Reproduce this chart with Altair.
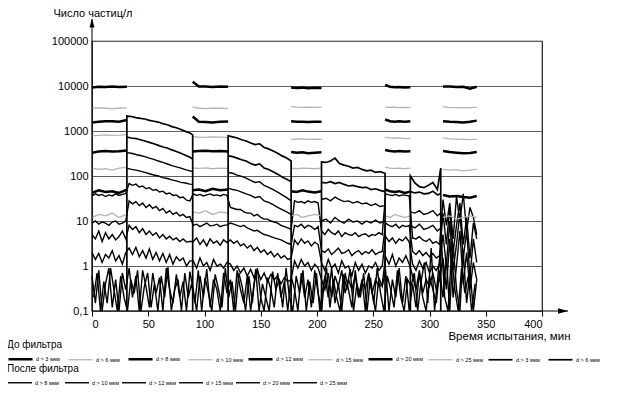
import altair as alt
import pandas as pd

FONT = "Liberation Sans"

# ---------------- legend labels ----------------
LB = ["d > 3 мкм", "d > 6 мкм", "d > 8 мкм", "d > 10 мкм", "d > 12 мкм", "d > 15 мкм",
      "d > 20 мкм", "d > 25 мкм", "d > 3 мкм ", "d > 6 мкм "]
LB_COLORS = ["#000000", "#b3b3b3", "#000000", "#b3b3b3", "#000000", "#b3b3b3",
             "#000000", "#b3b3b3", "#000000", "#000000"]
LB_WIDTHS = [2.5, 1.3, 2.5, 1.3, 2.5, 1.3, 2.5, 1.3, 1.7, 1.7]
LA = ["d > 8 мкм", "d > 10 мкм", "d > 12 мкм", "d > 15 мкм", "d > 20 мкм", "d > 25 мкм"]
LA_COLORS = ["#000000"] * 6
LA_WIDTHS = [1.4] * 6

# ---------------- time samples (min) ----------------
BEFORE_T = [
    [0, 6, 12, 18, 24, 31],
    [89.5, 95, 101, 107, 114, 121],
    [177, 182, 187, 192, 198, 204],
    [260.5, 265, 269, 273, 278, 283],
    [312, 318, 324, 330, 336, 342],
]
AFTER_T = [
    [31, 35, 39, 43, 47, 51, 55, 59, 63, 67, 71, 75, 79, 83, 87, 89.5],
    [121, 125, 129, 133, 137, 141, 145, 149, 153, 157, 161, 165, 169, 173, 177],
    [204, 208, 212, 216, 220, 224, 228, 232, 236, 240, 244, 248, 252, 256, 260.5],
    [283, 287, 291, 295, 299, 303, 307, 310],
]
LOW_T = list(range(0, 343, 3))
NOISE2_T = [1.5 + 3 * k for k in range(114)]

# ---------------- before-filter series (particles / l) ----------------
B1 = [[9300, 9600, 9500, 9700, 9500, 9600], [12500, 9800, 9700, 9500, 9700, 9600],
      [9300, 9000, 9200, 8900, 9100, 9000], [10500, 9600, 9400, 9500, 9300, 9400],
      [9800, 9700, 9500, 9600, 8700, 9600]]
B2 = [[3200, 3250, 3200, 3150, 3200, 3250], [3400, 3200, 3150, 3200, 3200, 3150],
      [3500, 3400, 3350, 3400, 3350, 3400], [3400, 3350, 3400, 3300, 3350, 3300],
      [3500, 3300, 3300, 3250, 3300, 3350]]
B3 = [[1550, 1600, 1650, 1650, 1600, 1750], [2100, 1600, 1580, 1550, 1600, 1620],
      [1650, 1600, 1600, 1580, 1600, 1600], [1800, 1650, 1600, 1650, 1600, 1650],
      [1650, 1600, 1580, 1550, 1600, 1700]]
B4 = [[780, 800, 820, 800, 810, 830], [750, 730, 720, 740, 730, 720],
      [650, 660, 670, 650, 660, 650], [720, 700, 690, 700, 680, 690],
      [700, 670, 660, 650, 640, 650]]
B5 = [[330, 350, 360, 350, 355, 370], [350, 360, 365, 355, 360, 350],
      [340, 330, 335, 320, 330, 335], [380, 360, 350, 360, 350, 355],
      [360, 340, 330, 320, 325, 340]]
B6 = [[150, 140, 145, 135, 150, 155], [150, 148, 152, 145, 150, 148],
      [150, 145, 150, 148, 145, 150], [155, 150, 148, 150, 145, 150],
      [140, 135, 138, 130, 135, 140]]
B7 = [[42, 48, 44, 46, 42, 50], [48, 50, 46, 52, 48, 50], [46, 44, 48, 45, 43, 46],
      [50, 46, 44, 46, 42, 45], [38, 35, 36, 34, 33, 36]]
B8 = [[12, 14, 13, 15, 12, 14], [16, 15, 17, 14, 16, 15], [13, 14, 12, 13, 14, 13],
      [13, 12, 14, 13, 12, 13], [12, 13, 11, 12, 13, 12]]

# ---------------- after-filter series, upper (only in after periods) ----------------
A1 = [[2150, 2100, 1980, 1900, 1850, 1720, 1650, 1580, 1450, 1380, 1250, 1180, 1080, 980, 900, 820],
      [780, 740, 700, 640, 600, 540, 500, 520, 430, 400, 360, 320, 280, 250, 215],
      [205, 200, 215, 250, 190, 175, 165, 150, 155, 140, 130, 135, 120, 125, 115],
      [100, 70, 58, 55, 62, 72, 50, 150]]
A2 = [[730, 700, 680, 640, 600, 560, 520, 480, 440, 420, 380, 350, 320, 290, 260, 240],
      [280, 270, 250, 230, 215, 190, 175, 185, 150, 140, 125, 110, 95, 85, 75],
      [72, 70, 75, 68, 72, 65, 60, 62, 58, 55, 56, 50, 52, 48, 45],
      [45, 42, 44, 40, 41, 46, 38, 40]]
A3 = [[330, 320, 300, 285, 270, 250, 235, 215, 200, 185, 170, 160, 150, 138, 130, 125],
      [120, 115, 105, 98, 90, 80, 72, 75, 62, 56, 50, 44, 38, 33, 28],
      [30, 32, 28, 34, 30, 27, 28, 25, 27, 24, 25, 22, 24, 21, 22],
      [16, 15, 17, 14, 15, 17, 13, 15]]
A4 = [[150, 140, 135, 128, 120, 112, 105, 100, 92, 88, 82, 78, 72, 70, 66, 65],
      [54, 50, 48, 44, 40, 37, 33, 35, 28, 26, 23, 20, 18, 16, 14],
      [10, 11, 9, 12, 10, 9, 11, 9.5, 10, 8.5, 10, 9, 10.5, 9, 10],
      [8, 7, 8.5, 6.5, 7, 8, 6, 7]]

# ---------------- after-filter series, lower (whole test, every 3 min) ----------------
A5 = [[36, 40, 37, 39, 35, 38, 36, 40, 37, 39, 41],
      [68, 62, 66, 57, 60, 52, 55, 48, 50, 44, 46, 40, 42, 37, 38, 33, 34, 29, 28],
      [40, 37, 39, 36, 38, 40, 37, 38, 36, 39, 37],
      [20, 19, 18, 18, 16, 15, 15, 13, 14, 12, 11, 11, 10, 9.5, 9, 8, 7.5, 7, 6.5],
      [28, 26, 27, 25, 28, 26, 27, 25],
      [6, 5, 6.5, 5.5, 5, 6, 4.5, 5.5, 5, 4.8, 5.5, 4.5, 5, 5.2, 4.5, 5, 4.8, 5.5, 5],
      [40, 38, 37, 39, 36, 38, 37, 36],
      [4.2, 4, 4.5, 3.8, 3.5, 4, 3.2, 3.5, 3],
      [30, 8, 25, 4, 35, 10, 40, 6, 20, 12, 5]]
A6 = [[9, 10, 8.5, 9.5, 9, 8, 9.5, 10, 8.5, 9, 10],
      [28, 24, 27, 22, 25, 20, 23, 19, 21, 17, 19, 15, 17, 14, 15.5, 13, 14, 12, 12.5],
      [8, 8.5, 7.5, 8.2, 9, 7.8, 8, 8.5, 7.5, 8, 8.2],
      [9, 8.5, 8, 7.5, 8, 7, 6.5, 6, 6.2, 5.5, 5, 4.8, 4.5, 4.2, 4, 3.8, 3.5, 3.2, 3],
      [8, 7.5, 8.5, 7, 8, 7.5, 6.5, 7.5],
      [2.2, 2, 2.4, 1.8, 2.1, 2.5, 1.9, 2, 2.3, 1.7, 2, 2.2, 1.8, 2.1, 1.9, 2.3, 1.8, 2, 2.1],
      [9, 8, 7.5, 8.5, 7, 8, 7.5, 8],
      [2.1, 1.8, 2.2, 1.7, 2, 1.6, 1.9, 1.5, 1.7],
      [15, 3, 20, 2, 8, 25, 3, 12, 1.5, 9, 4]]
A7 = [[5, 4, 6, 3.5, 5.5, 4, 5, 3.8, 4.5, 6, 4],
      [8, 6.5, 7.5, 5.5, 6.8, 5, 6, 4.8, 5.5, 4.2, 5, 4, 4.6, 3.8, 4.2, 3.5, 4, 3.4, 3.5],
      [3.5, 4.2, 3, 3.8, 2.8, 4, 3.2, 3.6, 2.9, 3.8, 3.3],
      [3.8, 3.2, 3.6, 2.8, 3.1, 2.5, 2.9, 2.2, 2.6, 2, 2.3, 1.8, 2.1, 1.6, 1.9, 1.5, 1.7, 1.4, 1.5],
      [3.8, 3, 4, 3.2, 3.6, 2.8, 3.4, 3],
      [1.2, 0.8, 1.4, 0.9, 1.1, 0.7, 1.3, 0.9, 1, 0.6, 1.2, 0.8, 1.1, 0.7, 1, 0.9, 1.2, 0.8, 1],
      [4.5, 3.5, 4.2, 3.2, 4, 3.6, 4.4, 3.4],
      [1.1, 0.8, 1.3, 0.9, 1.2, 0.7, 1, 0.8, 1.1],
      [5, 1, 10, 0.8, 3, 15, 1.5, 6, 0.6, 4, 1.2]]
A8 = [[2, 1.4, 1.9, 1.2, 1.8, 1.5, 2.2, 1.3, 1.7, 1.1, 2],
      [2.5, 1.8, 2.6, 1.6, 2.2, 1.5, 2.4, 1.4, 2, 1.3, 1.9, 1.2, 1.8, 1.1, 1.6, 1.3, 1.5, 1, 1.3],
      [1.3, 0.9, 1.5, 1, 1.2, 0.8, 1.4, 1, 1.1, 0.9, 1.2],
      [1.1, 0.8, 1, 0.7, 0.9, 0.6, 0.85, 0.55, 0.8, 0.5, 0.7, 0.45, 0.65, 0.5, 0.6, 0.4, 0.55, 0.45, 0.5],
      [1.3, 0.9, 1.4, 1, 1.2, 0.8, 1.1, 0.9],
      [0.5, 0.3, 0.7, 0.2, 0.6, 0.35, 0.8, 0.25, 0.5, 0.3, 0.6, 0.2, 0.45, 0.3, 0.7, 0.25, 0.5, 0.35, 0.4],
      [1.6, 1.1, 1.8, 1, 1.5, 1.2, 1.7, 1.1],
      [0.6, 0.3, 0.8, 0.25, 0.5, 0.35, 0.7, 0.3, 0.5],
      [1.5, 0.3, 4, 0.2, 1, 6, 0.4, 2, 0.3, 1.2, 0.5]]
N1 = [[0.6, 0.15, 0.8, 0.1, 0.4, 0.9, 0.12, 0.5, 0.1, 0.7, 0.3],
      [0.9, 0.2, 0.6, 0.1, 0.8, 0.35, 0.12, 0.7, 0.25, 0.55, 0.1, 0.9, 0.3, 0.15, 0.65, 0.2, 0.45, 0.1, 0.75],
      [0.3, 0.1, 0.6, 0.2, 0.85, 0.12, 0.5, 0.3, 0.1, 0.7, 0.25],
      [0.5, 0.1, 0.8, 0.3, 0.15, 0.6, 0.1, 0.4, 0.9, 0.2, 0.1, 0.55, 0.3, 0.12, 0.7, 0.2, 0.45, 0.1, 0.6],
      [0.3, 0.1, 0.7, 0.2, 0.5, 0.12, 0.8, 0.25],
      [0.1, 0.6, 0.2, 0.9, 0.15, 0.4, 0.1, 0.7, 0.3, 0.12, 0.8, 0.2, 0.5, 0.1, 0.65, 0.25, 0.1, 0.55, 0.35],
      [0.8, 0.1, 0.5, 0.2, 0.9, 0.15, 0.6, 0.1],
      [0.4, 0.12, 0.7, 0.2, 0.1, 0.6, 0.3, 0.15, 0.8],
      [0.2, 1.5, 0.1, 3, 0.3, 0.1, 2, 0.15, 0.8, 0.1, 0.5]]
N2 = [0.2, 0.7, 0.1, 0.45, 0.15, 0.9, 0.3, 0.1, 0.6, 0.2,
      0.1, 0.5, 0.25, 0.8, 0.1, 0.35, 0.7, 0.12, 0.4, 0.1,
      0.6, 0.2, 0.95, 0.1, 0.3, 0.5, 0.1, 0.7, 0.2, 0.4,
      0.15, 0.8, 0.1, 0.55, 0.25, 0.1, 0.65, 0.3, 0.12, 0.9,
      0.2, 0.45, 0.1, 0.7, 0.35, 0.1, 0.6, 0.15, 0.85, 0.1,
      0.4, 0.2, 0.1, 0.75, 0.3, 0.5, 0.12, 0.9, 0.2, 0.1,
      0.6, 0.25, 0.8, 0.1, 0.45, 0.15, 0.7, 0.1, 0.35, 0.9,
      0.12, 0.5, 0.2, 0.1, 0.65, 0.3, 0.85, 0.1, 0.4, 0.2,
      0.7, 0.1, 0.55, 0.15, 0.9, 0.25, 0.1, 0.6, 0.3, 0.12,
      0.8, 0.2, 0.1, 0.5, 0.35, 0.7, 0.1, 0.45, 1.2, 0.15,
      2.5, 0.1, 0.6, 4, 0.2, 0.1, 1.8, 0.3, 0.1, 0.9,
      0.25, 0.6, 0.1, 0.4]

BASE = 0.1  # reading shown at the axis floor between after-filter runs


def flat(segs):
    out = []
    for s in segs:
        out.extend(s)
    return out


def add(rows, lab, sid, ts, vs):
    for i, (t, v) in enumerate(zip(ts, vs)):
        rows.append({"lab": lab, "sid": sid, "t": t, "v": v, "o": i})


rows_b = []
for k, ser in enumerate([B1, B2, B3, B4, B5, B6, B7, B8]):
    for s, (ts, vs) in enumerate(zip(BEFORE_T, ser)):
        add(rows_b, LB[k], f"B{k}_{s}", ts, vs)
for s, (ts, vs) in enumerate(zip(AFTER_T, A1)):
    add(rows_b, LB[8], f"A1_{s}", [ts[0]] + ts + [ts[-1]], [BASE] + vs + [BASE])
for s, (ts, vs) in enumerate(zip(AFTER_T, A2)):
    add(rows_b, LB[9], f"A2_{s}", ts, vs)

rows_a = []
for k, ser in enumerate([A3, A4]):
    for s, (ts, vs) in enumerate(zip(AFTER_T, ser)):
        add(rows_a, LA[k], f"U{k}_{s}", ts, vs)
for k, ser in enumerate([A5, A6, A7, A8]):
    add(rows_a, LA[k + 2], f"L{k}", LOW_T, flat(ser))
add(rows_a, LA[4], "N1", LOW_T, flat(N1))
add(rows_a, LA[5], "N2", NOISE2_T, N2)

df_b = pd.DataFrame(rows_b)
df_a = pd.DataFrame(rows_a)

xs = alt.Scale(domain=[0, 400], nice=False, zero=False)
ys = alt.Scale(type="log", domain=[0.1, 100000], nice=False)

x_axis = alt.Axis(values=[0, 50, 100, 150, 200, 250, 300, 350, 400], domain=False, grid=False,
                  ticks=True, tickSize=5, tickColor="black", labelFontSize=11, labelColor="black",
                  labelFont=FONT, labelPadding=2, title="Время испытания, мин", titleX=478, titleY=25,
                  titleAlign="right", titleBaseline="middle", titleFontSize=11.5,
                  titleFontWeight="normal", titleColor="black", titleFont=FONT)
y_axis = alt.Axis(values=[0.1, 1, 10, 100, 1000, 10000, 100000],
                  labelExpr="datum.value < 1 ? '0,1' : format(datum.value, 'd')",
                  domain=False, ticks=False, grid=True, gridColor="#606060", gridWidth=1,
                  gridOpacity=1, labelFontSize=11, labelColor="black", labelFont=FONT, labelPadding=4,
                  title="Число частиц/л", titleAngle=0, titleX=-39, titleY=-34, titleAlign="left",
                  titleBaseline="top", titleFontSize=11, titleFontWeight="normal", titleColor="black",
                  titleFont=FONT)


def legend(title, y, cols):
    return alt.Legend(title=title, orient="none", legendX=-85, legendY=y, direction="horizontal",
                      columns=cols, symbolType="stroke", symbolSize=576, labelFontSize=5.5,
                      labelFont=FONT, labelColor="black", titleFontSize=10, titleFont=FONT,
                      titleFontWeight="normal", titleColor="black", titlePadding=-4,
                      gridAlign="all", columnPadding=0, labelOffset=2, rowPadding=0,
                      titleAnchor="start")


leg_b = legend("До фильтра", 298.5, 10)
leg_a = legend("После фильтра", 322.5, 6)

before = alt.Chart(df_b).mark_line().encode(
    x=alt.X("t:Q", scale=xs, axis=x_axis),
    y=alt.Y("v:Q", scale=ys, axis=y_axis),
    color=alt.Color("lab:N", scale=alt.Scale(domain=LB, range=LB_COLORS), legend=leg_b),
    strokeWidth=alt.StrokeWidth("lab:N", scale=alt.Scale(type="ordinal", domain=LB, range=LB_WIDTHS),
                                legend=leg_b),
    detail="sid:N",
    order="o:Q",
)
after = alt.Chart(df_a).mark_line().encode(
    x=alt.X("t:Q", scale=xs),
    y=alt.Y("v:Q", scale=ys),
    color=alt.Color("lab:N", scale=alt.Scale(domain=LA, range=LA_COLORS), legend=leg_a),
    strokeWidth=alt.StrokeWidth("lab:N", scale=alt.Scale(type="ordinal", domain=LA, range=LA_WIDTHS),
                                legend=leg_a),
    detail="sid:N",
    order="o:Q",
)

one = pd.DataFrame({"k": [0]})
x_line = alt.Chart(one).mark_rule(color="black", strokeWidth=1).encode(
    x=alt.value(0), x2=alt.value(476), y=alt.value(270))
y_line = alt.Chart(one).mark_rule(color="black", strokeWidth=1).encode(
    x=alt.value(0), y=alt.value(-22), y2=alt.value(270))
x_arrow = alt.Chart(one).mark_point(shape="M1,0L-1,0.55L-1,-0.55Z", filled=True, size=100,
                                    color="black", opacity=1).encode(x=alt.value(471), y=alt.value(270))
y_arrow = alt.Chart(one).mark_point(shape="M0,-1L0.55,1L-0.55,1Z", filled=True, size=81,
                                    color="black", opacity=1).encode(x=alt.value(0), y=alt.value(-18))

chart = alt.layer(after, before, x_line, y_line, x_arrow, y_arrow).resolve_scale(
    color="independent", strokeWidth="independent"
).properties(
    width=450, height=270,
    padding={"left": 84, "top": 33, "right": 75, "bottom": 74},
    autosize=alt.AutoSizeParams(type="none"),
).configure(font=FONT).configure_view(stroke="#1a1a1a", strokeWidth=1.2)

chart.save("out.html", embed_options={"renderer": "svg", "actions": False})
